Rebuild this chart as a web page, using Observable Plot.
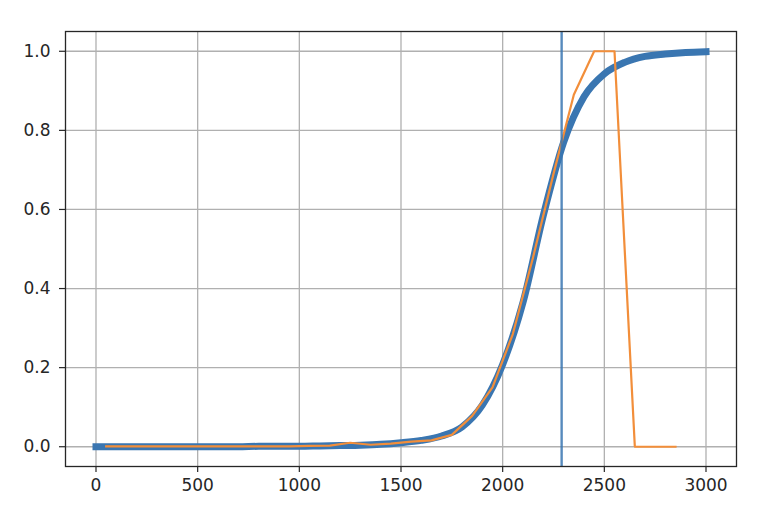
<!DOCTYPE html>
<html>
<head>
<meta charset="utf-8">
<script src="https://cdn.jsdelivr.net/npm/d3@7"></script>
<script src="https://cdn.jsdelivr.net/npm/@observablehq/plot@0.6"></script>
<style>
  html, body { margin: 0; padding: 0; background: #fff; }
  #chart svg { display: block; }
</style>
</head>
<body>
<div id="chart"></div>
<script>
// Thick blue curve (sampled every 100)
const blueX = [0,100,200,300,400,500,600,700,800,900,1000,1100,1200,1300,1400,1500,1600,1700,1800,1900,2000,2100,2200,2300,2400,2500,2600,2700,2800,2900,3000];
const blueY = [0,0,0,0,0,0,0,0,0.001,0.001,0.001,0.002,0.003,0.004,0.006,0.010,0.016,0.027,0.050,0.105,0.208,0.365,0.585,0.770,0.885,0.943,0.972,0.987,0.993,0.997,0.999];

// Thin orange line
const orangeX = [50,150,250,350,450,550,650,750,850,950,1050,1150,1250,1350,1450,1550,1650,1750,1850,1950,2050,2150,2250,2350,2450,2550,2650,2750,2850];
const orangeY = [0.001,0.001,0.001,0.001,0.001,0.001,0.001,0.001,0.001,0.001,0.002,0.003,0.010,0.005,0.008,0.013,0.016,0.030,0.078,0.150,0.285,0.480,0.690,0.890,1.0,1.0,0,0,0];

// Vertical marker
const vlineX = [2290];

// Tick labels
const xTicks = [0,500,1000,1500,2000,2500,3000];
const yTicks = [0.0,0.2,0.4,0.6,0.8,1.0];

const blue = blueX.map((x, i) => ({x, y: blueY[i]}));
const orange = orangeX.map((x, i) => ({x, y: orangeY[i]}));

const font = '"DejaVu Sans", sans-serif';
const fmtX = d => String(d);
const fmtY = d3.format(".1f");

const chart = Plot.plot({
  width: 762,
  height: 522,
  marginLeft: 65,
  marginRight: 26,
  marginTop: 31,
  marginBottom: 56,
  style: {fontFamily: font, fontSize: "17px", color: "#262626", background: "#fff"},
  x: {domain: [-150, 3150], label: null},
  y: {domain: [-0.05, 1.05], label: null},
  marks: [
    Plot.gridX(xTicks, {stroke: "#b0b0b0", strokeOpacity: 1, strokeWidth: 1.3}),
    Plot.gridY(yTicks, {stroke: "#b0b0b0", strokeOpacity: 1, strokeWidth: 1.3}),
    Plot.axisX(xTicks, {tickFormat: fmtX, tickSize: 6, tickPadding: 6, stroke: "#262626", strokeWidth: 1.2, fontSize: 17, fill: "#262626", label: null}),
    Plot.axisY(yTicks, {tickFormat: fmtY, tickSize: 6, tickPadding: 9, stroke: "#262626", strokeWidth: 1.2, fontSize: 17, fill: "#262626", label: null}),
    Plot.line(blue, {x: "x", y: "y", curve: "monotone-x", stroke: "#3a76b1", strokeWidth: 7, strokeLinecap: "square", strokeLinejoin: "round"}),
    Plot.line(orange, {x: "x", y: "y", stroke: "#f28e3a", strokeWidth: 2.2, strokeLinecap: "square", strokeLinejoin: "round"}),
    Plot.ruleX(vlineX, {stroke: "#3a76b1", strokeWidth: 2.4, strokeOpacity: 0.85}),
    Plot.frame({stroke: "#262626", strokeWidth: 1.3})
  ]
});

document.getElementById("chart").appendChild(chart);
</script>
</body>
</html>
